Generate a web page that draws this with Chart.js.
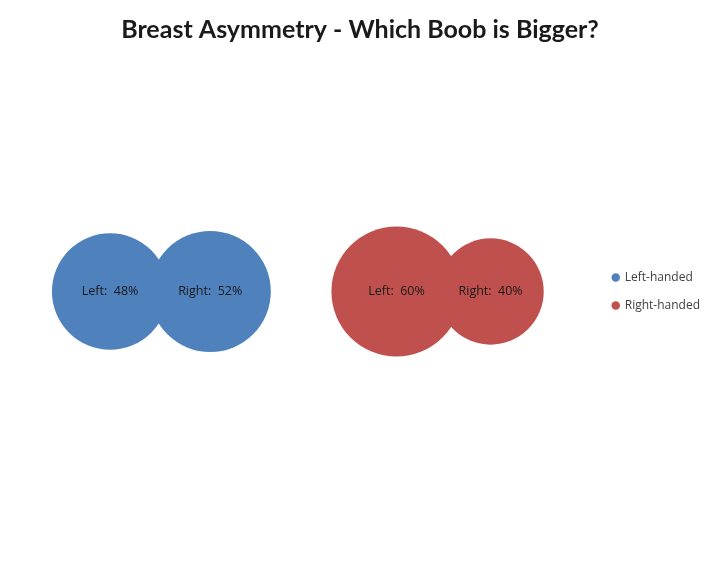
<!DOCTYPE html>
<html>
<head>
<meta charset="utf-8">
<script src="https://cdn.jsdelivr.net/npm/chart.js@4"></script>
<style>
  html, body { margin: 0; padding: 0; background: #ffffff; }
  #wrap { width: 720px; height: 583px; }
</style>
</head>
<body>
<div id="wrap"><canvas id="chart1"></canvas></div>
<script>
// Chart data
const seriesNames = ["Left-handed", "Right-handed"];
const sideNames = ["Left", "Right"];
const leftHandedValues = [48, 52];
const rightHandedValues = [60, 40];
const leftHandedX = [1, 2];
const rightHandedX = [3.86, 4.8];
const bubbleY = [1, 1];

const seriesColors = ["#4f81bd", "#c0504d"];

document.addEventListener("DOMContentLoaded", function () {
  generarGrafico();
});

// bubble area follows the percentage, like Excel does
function radio(valor) {
  return 8.4 * Math.sqrt(valor);
}

function puntos(xs, valores) {
  return valores.map((v, i) => ({ x: xs[i], y: bubbleY[i], r: radio(v), v: v }));
}

// draws "Left: 48%" etc. in the middle of each bubble
const etiquetasPlugin = {
  id: "etiquetas",
  afterDatasetsDraw(chart) {
    const ctx = chart.ctx;
    ctx.save();
    ctx.font = "12.5px 'Open Sans', sans-serif";
    ctx.fillStyle = "#1a1a1a";
    ctx.textAlign = "center";
    ctx.textBaseline = "middle";
    chart.data.datasets.forEach((ds, d) => {
      chart.getDatasetMeta(d).data.forEach((el, i) => {
        ctx.fillText(sideNames[i] + ":  " + ds.data[i].v + "%", el.x, el.y);
      });
    });
    ctx.restore();
  },
};

function generarGrafico() {
  const ctx = document.getElementById("chart1").getContext("2d");

  new Chart(ctx, {
    type: "bubble",
    data: {
      datasets: [
        {
          label: seriesNames[0],
          data: puntos(leftHandedX, leftHandedValues),
          backgroundColor: seriesColors[0],
          borderColor: seriesColors[0],
          borderWidth: 0,
          clip: false,
        },
        {
          label: seriesNames[1],
          data: puntos(rightHandedX, rightHandedValues),
          backgroundColor: seriesColors[1],
          borderColor: seriesColors[1],
          borderWidth: 0,
          clip: false,
        },
      ],
    },
    options: {
      responsive: true,
      maintainAspectRatio: false,
      animation: false,
      layout: { padding: { left: 10, right: 10, top: 0, bottom: 0 } },
      scales: {
        x: { display: false, min: 0.55, max: 5.86 },
        y: { display: false, min: 0, max: 2 },
      },
      plugins: {
        title: {
          display: true,
          text: "Breast Asymmetry - Which Boob is Bigger?",
          color: "#1a1a1a",
          font: { family: "Lato, sans-serif", size: 25, weight: "bold" },
          padding: { top: 15, bottom: 20 },
        },
        legend: {
          position: "right",
          labels: {
            usePointStyle: true,
            pointStyle: "circle",
            boxWidth: 6,
            boxHeight: 6,
            padding: 16,
            color: "#404040",
            font: { family: "'Open Sans', sans-serif", size: 12 },
          },
        },
        tooltip: { enabled: false },
      },
    },
    plugins: [etiquetasPlugin],
  });
}
</script>
</body>
</html>
